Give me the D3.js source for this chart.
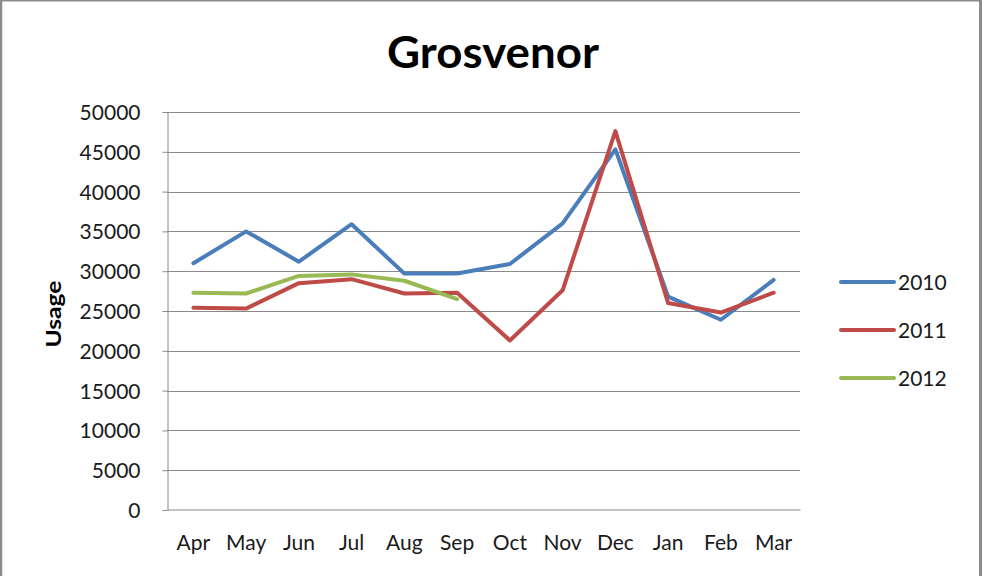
<!DOCTYPE html>
<html>
<head>
<meta charset="utf-8">
<script src="https://cdn.jsdelivr.net/npm/d3@7/dist/d3.min.js"></script>
<style>
  html, body { margin: 0; padding: 0; background: #fff; }
  svg { display: block; font-family: Lato, "Open Sans", sans-serif; }
</style>
</head>
<body>
<svg id="chart" width="982" height="576"></svg>
<script>
// Monthly usage, financial year April..March
const months = ["Apr", "May", "Jun", "Jul", "Aug", "Sep", "Oct", "Nov", "Dec", "Jan", "Feb", "Mar"];
const usage2010 = [31000, 35000, 31200, 35900, 29700, 29700, 30900, 36000, 45300, 26800, 23900, 28900];
const usage2011 = [25400, 25300, 28500, 29000, 27200, 27300, 21300, 27600, 47600, 26000, 24800, 27300];
const usage2012 = [27300, 27200, 29400, 29600, 28800, 26500];
const yTicks = [0, 5000, 10000, 15000, 20000, 25000, 30000, 35000, 40000, 45000, 50000];
const seriesNames = ["2010", "2011", "2012"];
const seriesColors = ["#4A7EBB", "#BE4B48", "#98B954"];

const series = [usage2010, usage2011, usage2012].map((vals, i) => ({
  name: seriesNames[i],
  color: seriesColors[i],
  points: vals.map((v, j) => ({ month: months[j], value: v }))
}));

const svg = d3.select("#chart");
const W = 982, H = 576;
const plot = { left: 167, right: 800, top: 112, bottom: 510 };

// Chart frame
svg.append("rect").attr("x", 0).attr("y", 0).attr("width", W).attr("height", H).attr("fill", "#fff");
svg.append("line").attr("x1", 1).attr("x2", 1).attr("y1", 0).attr("y2", H)
  .attr("stroke", "#8c8c8c").attr("stroke-width", 2.5);
svg.append("line").attr("x1", 0).attr("x2", 981).attr("y1", 0.75).attr("y2", 0.75)
  .attr("stroke", "#8c8c8c").attr("stroke-width", 1.5);
svg.append("line").attr("x1", 980.5).attr("x2", 980.5).attr("y1", 0).attr("y2", H)
  .attr("stroke", "#8c8c8c").attr("stroke-width", 3);

const x = d3.scaleBand().domain(months).range([plot.left, plot.right]);
const y = d3.scaleLinear().domain([0, 50000]).range([plot.bottom, plot.top]);
const xc = m => x(m) + x.bandwidth() / 2;

// Horizontal gridlines
svg.append("g")
  .selectAll("line")
  .data(yTicks.filter(t => t > 0))
  .join("line")
  .attr("x1", plot.left).attr("x2", plot.right)
  .attr("y1", d => Math.round(y(d)) + 0.5).attr("y2", d => Math.round(y(d)) + 0.5)
  .attr("stroke", "#8a8a8a").attr("stroke-width", 1);

// Y axis
const yAxis = svg.append("g")
  .attr("transform", `translate(${plot.left + 0.5},0)`)
  .call(d3.axisLeft(y).tickValues(yTicks).tickFormat(d3.format("d")).tickSize(5).tickSizeOuter(0).tickPadding(22));
yAxis.select(".domain").attr("stroke", "#8a8a8a");
yAxis.selectAll(".tick line").attr("stroke", "#8a8a8a");
yAxis.selectAll(".tick text")
  .attr("fill", "#1a1a1a").attr("font-size", 21).attr("font-family", "Lato, sans-serif")
  .attr("dy", "0.36em");

// X axis
const xAxis = svg.append("g")
  .attr("transform", `translate(0,${plot.bottom - 0.5})`)
  .call(d3.axisBottom(x).tickSize(0).tickPadding(26));
xAxis.select(".domain").attr("stroke", "#8a8a8a");
xAxis.selectAll(".tick text")
  .attr("fill", "#1a1a1a").attr("font-size", 21).attr("font-family", "Lato, sans-serif");

// Series lines
const line = d3.line().x(d => xc(d.month)).y(d => y(d.value));
svg.append("g")
  .selectAll("path")
  .data(series)
  .join("path")
  .attr("d", d => line(d.points))
  .attr("fill", "none")
  .attr("stroke", d => d.color)
  .attr("stroke-width", 4)
  .attr("stroke-linejoin", "round")
  .attr("stroke-linecap", "round");

// Title
svg.append("text")
  .attr("x", 387).attr("y", 68)
  .attr("font-size", 44).attr("font-weight", "bold")
  .attr("textLength", 212).attr("lengthAdjust", "spacingAndGlyphs")
  .attr("fill", "#000")
  .text("Grosvenor");

// Y axis title
svg.append("text")
  .attr("transform", "translate(61,314) rotate(-90)")
  .attr("text-anchor", "middle")
  .attr("font-size", 20).attr("font-weight", "bold")
  .attr("textLength", 67).attr("lengthAdjust", "spacingAndGlyphs")
  .attr("fill", "#000")
  .text("Usage");

// Legend
const legendY = d3.scalePoint().domain(seriesNames).range([282, 378]);
const legend = svg.append("g")
  .selectAll("g")
  .data(series)
  .join("g")
  .attr("transform", d => `translate(0,${legendY(d.name)})`);
legend.append("line")
  .attr("x1", 841).attr("x2", 894).attr("y1", 0).attr("y2", 0)
  .attr("stroke", d => d.color).attr("stroke-width", 4).attr("stroke-linecap", "round");
legend.append("text")
  .attr("x", 898).attr("y", 0).attr("dy", "0.36em")
  .attr("font-size", 21).attr("fill", "#1a1a1a")
  .text(d => d.name);
</script>
</body>
</html>
